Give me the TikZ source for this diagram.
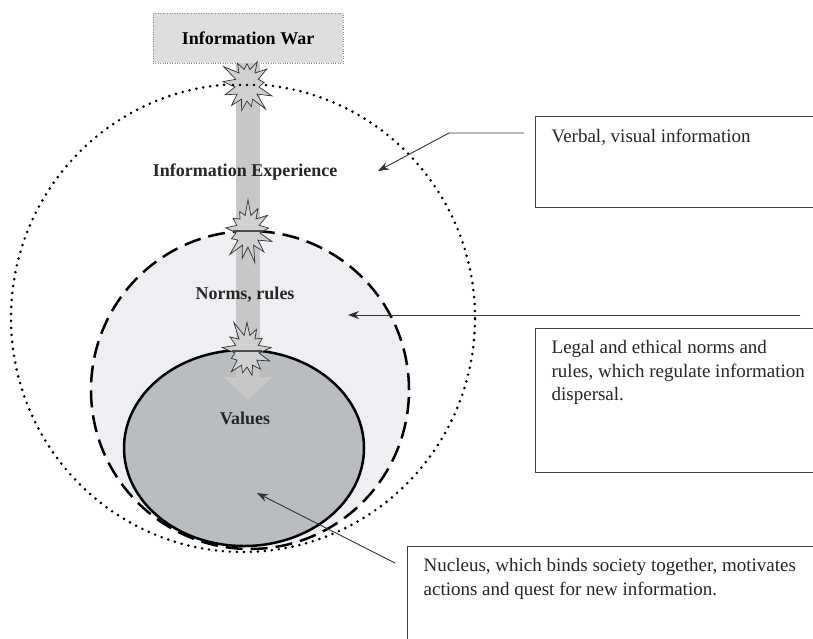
\documentclass[tikz,border=0pt]{standalone}
\usepackage{fontspec}
\setmainfont{Liberation Serif}
\usetikzlibrary{arrows.meta, shapes.geometric, shapes.symbols}

\definecolor{normsfill}{RGB}{238,239,243}
\definecolor{corefill}{RGB}{186,189,192}
\definecolor{shaftgray}{RGB}{200,200,200}
\definecolor{burstgray}{RGB}{208,208,208}
\definecolor{warfill}{RGB}{222,222,222}

\begin{document}
\begin{tikzpicture}[x=1pt, y=-1pt,
	ring/.style={draw, inner sep=0pt, line width=2.5pt},
	lbl/.style={font=\fontsize{18}{20}\selectfont\bfseries, text=black!85},
	burst/.style={starburst, starburst points=13, starburst point height=17pt, random starburst=#1, draw=black!80, line width=0.7pt, fill=burstgray, minimum width=58pt, minimum height=66pt, inner sep=0pt},
	note/.style={draw=black!75, line width=1.3pt, fill=white, anchor=north west, inner xsep=16pt, inner ysep=12pt, font=\fontsize{19}{23.5}\selectfont, text=black!85},
	ptr/.style={draw=black!80, line width=0.9pt, -{Stealth[length=11pt, width=8pt]}}]
	\useasboundingbox (0,0) rectangle (813,638);

	% rings
	\node[ring, ellipse, line width=2.9pt, dash pattern=on 0pt off 7pt, line cap=round, minimum width=464pt, minimum height=468pt] (outer) at (243,318) {};
	\node[ring, circle, fill=normsfill, dash pattern=on 17pt off 8pt, minimum size=318pt] (normring) at (250,390) {};
	\node[ring, ellipse, fill=corefill, minimum width=240pt, minimum height=196pt] (core) at (244,448) {};

	% flow of information
	\node[draw=black!45, dotted, fill=warfill, minimum width=190pt, minimum height=50pt, font=\fontsize{18}{20}\selectfont\bfseries] (war) at (248,38) {Information War};
	\coordinate (tip) at (248,400);
	\draw[shaftgray, line width=24pt, -{Triangle[length=23pt, width=47pt]}] (war.south) -- (tip);

	\node[burst=3] (sb1) at (247,85) {};
	\node[burst=7] (sb2) at (248,231) {};
	\node[burst=11] (sb3) at (247,351) {};
	\draw[line width=2.9pt, dash pattern=on 0pt off 7pt, line cap=round] ([xshift=-14pt]sb1.center) -- ([xshift=14pt]sb1.center);
	\draw[line width=2.5pt, black!70] ([xshift=-15pt]sb2.center) -- ([xshift=15pt]sb2.center);
	\draw[line width=2.5pt, black!70] ([xshift=-15pt]sb3.center) -- ([xshift=15pt]sb3.center);

	\node[lbl] (exp) at (245,172) {Information Experience};
	\node[lbl] (norms) at (245,295) {Norms, rules};
	\node[lbl] (vals) at (245,418) {Values};

	% callouts
	\node[note] (verbal) at (535,116) {\parbox[t][67pt][t]{300pt}{Verbal, visual information}};
	\node[note] (legal) at (535,328) {\parbox[t][120pt][t]{300pt}{Legal and ethical norms and\\ rules, which regulate information\\ dispersal.}};
	\node[note] (nucleus) at (407,546) {\parbox[t][100pt][t]{420pt}{Nucleus, which binds society together, motivates\\ actions and quest for new information.}};

	\coordinate (v1a) at (524,133);
	\coordinate (v1b) at (449,133);
	\coordinate (v1c) at (378,171);
	\draw[ptr] (v1a) -- (v1b) -- (v1c);
	\coordinate (l2a) at (800,315);
	\coordinate (l2b) at (348,315);
	\draw[ptr] (l2a) -- (l2b);
	\coordinate (n3a) at (395,563);
	\coordinate (n3b) at (257,493);
	\draw[ptr] (n3a) -- (n3b);
\end{tikzpicture}
\end{document}
